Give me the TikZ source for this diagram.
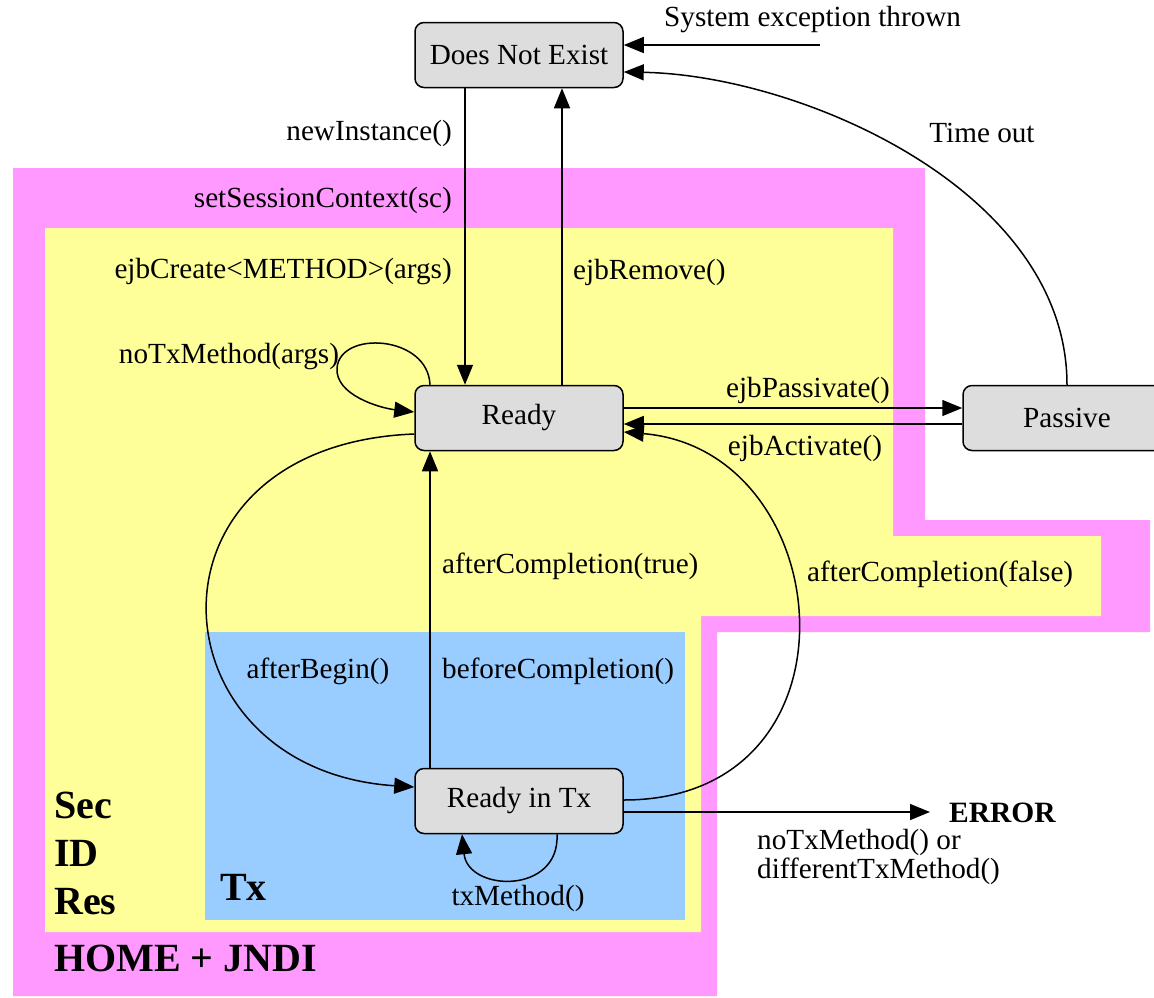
\documentclass[tikz,border=0pt]{standalone}
\usepackage{fontspec}
\setmainfont{Liberation Serif}
\usetikzlibrary{arrows.meta}
\definecolor{pinkc}{HTML}{FF99FF}
\definecolor{yelc}{HTML}{FFFF99}
\definecolor{bluc}{HTML}{99CCFF}
\definecolor{boxc}{HTML}{DDDDDD}
\begin{document}
\begin{tikzpicture}[x=1pt,y=1pt,
  state/.style={draw, line width=1.5pt, fill=boxc, rounded corners=9pt, minimum width=208pt, minimum height=65pt, inner sep=0pt, font=\fontsize{29.2}{34}\selectfont},
  lbl/.style={inner sep=0pt, font=\fontsize{29.2}{34}\selectfont},
  big/.style={inner sep=0pt, font=\bfseries\fontsize{40}{48}\selectfont},
  arr/.style={line width=1.5pt, -{Triangle[length=20pt,width=16pt]}}]
\useasboundingbox (0,0) rectangle (1154,-997);
\clip (0,0) rectangle (1154,-997);
% regions
\fill[pinkc] (13,-168) -- (925,-168) -- (925,-520) -- (1150,-520) -- (1150,-632) -- (717,-632) -- (717,-996) -- (13,-996) -- cycle;
\fill[yelc] (45,-228) -- (893,-228) -- (893,-536) -- (1101,-536) -- (1101,-616) -- (701,-616) -- (701,-932) -- (45,-932) -- cycle;
\fill[bluc] (205,-632) rectangle (685,-920);
% states
\node[state] (dne) at (519,-55) {Does Not Exist};
\node[state] (ready) at (519,-418) {Ready};
\node[state] (passive) at (1067,-418) {Passive};
\node[state] (readytx) at (519,-801) {Ready in Tx};
% region labels
\node[big, anchor=west, align=left, font=\bfseries\fontsize{40}{48}\selectfont] (secidres) at (54,-853) {Sec\\ID\\Res};
\node[big, anchor=west] (txl) at (220,-887) {Tx};
\node[big, anchor=west] (home) at (54,-958) {HOME + JNDI};
% labels
\node[lbl, anchor=west] (syslbl) at (664,-20) {System exception thrown};
\node[lbl, anchor=east] (newlbl) at (452,-133) {newInstance()};
\node[lbl, anchor=east] (setlbl) at (452,-200) {setSessionContext(sc)};
\node[lbl, anchor=east] (crelbl) at (452,-272) {ejbCreate<METHOD>(args)};
\node[lbl, anchor=west] (remlbl) at (573,-272) {ejbRemove()};
\node[lbl] (timelbl) at (982,-133) {Time out};
\node[lbl] (notxlbl) at (229,-357) {noTxMethod(args)};
\node[lbl] (paslbl) at (808,-390) {ejbPassivate()};
\node[lbl] (actlbl) at (805,-448) {ejbActivate()};
\node[lbl, anchor=west] (actrue) at (442,-566) {afterCompletion(true)};
\node[lbl, anchor=west] (acfalse) at (807,-574) {afterCompletion(false)};
\node[lbl] (ablbl) at (318,-671) {afterBegin()};
\node[lbl, anchor=west] (bclbl) at (442,-671) {beforeCompletion()};
\node[lbl] (txmlbl) at (518,-898) {txMethod()};
\node[lbl, anchor=west, font=\bfseries\fontsize{29.5}{34}\selectfont] (err) at (949,-813) {ERROR};
\node[lbl, anchor=west, align=left, font=\fontsize{29.2}{29}\selectfont] (errlbl) at (757,-857) {noTxMethod() or\\differentTxMethod()};
% connectors
\coordinate (sysexc) at (820,-45);
\coordinate (errpt) at (930,-812);
\draw[arr] ([xshift=-54pt]dne.south) -- ([xshift=-54pt]ready.north);
\draw[arr] ([xshift=43pt]ready.north) -- ([xshift=43pt]dne.south);
\draw[arr] (sysexc) -- (sysexc -| dne.east);
\draw[arr] (passive.north) .. controls (1067,-190) and (800,-75) .. ([yshift=-17pt]dne.east);
\draw[arr] ([yshift=10pt]ready.east) -- ([yshift=10pt]passive.west);
\draw[arr] ([yshift=-6pt]passive.west) -- ([yshift=-6pt]ready.east);
\draw[arr] ([xshift=-89pt]ready.north) .. controls (428,-335) and (340,-330) .. (337,-368) .. controls (335,-395) and (380,-408) .. ([yshift=6pt]ready.west);
\draw[arr] ([yshift=-16pt]ready.west) .. controls (130,-445) and (150,-770) .. ([yshift=14pt]readytx.west);
\draw[arr] ([xshift=-89pt]readytx.north) -- ([xshift=-89pt]ready.south);
\draw[arr] ([yshift=1pt]readytx.east) .. controls (870,-800) and (840,-450) .. ([yshift=-14pt]ready.east);
\draw[arr] ([yshift=-11pt]readytx.east) -- (errpt);
\draw[arr] ([xshift=38pt]readytx.south) .. controls (560,-895) and (468,-892) .. ([xshift=-57pt]readytx.south);
\end{tikzpicture}
\end{document}
